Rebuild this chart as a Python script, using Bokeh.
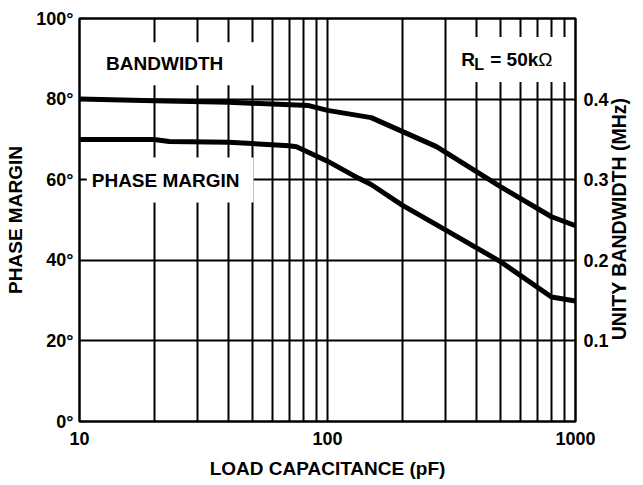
import math
from bokeh.plotting import figure
from bokeh.models import Label, LinearAxis, Range1d, FixedTicker
from bokeh.embed import file_html
from bokeh.resources import INLINE

# ---- data ----
bw_cap = [10, 20, 40, 84, 100, 150, 275, 500, 800, 1000]
bw_mhz = [0.400, 0.398, 0.396, 0.392, 0.386, 0.377, 0.341, 0.291, 0.254, 0.243]

pm_cap = [10, 20, 23, 40, 70, 75, 100, 133, 150, 200, 300, 500, 800, 1000]
pm_deg = [70, 70, 69.5, 69.3, 68.4, 68.2, 64.6, 60.4, 58.8, 53.7, 47.5, 39.6, 30.9, 29.9]

x_ticks = [10, 100, 1000]
x_tick_labels = ["10", "100", "1000"]
x_minor = [20, 30, 40, 50, 60, 70, 80, 90, 200, 300, 400, 500, 600, 700, 800, 900]
deg_ticks = [0, 20, 40, 60, 80, 100]
deg_labels = ["0\u00b0", "20\u00b0", "40\u00b0", "60\u00b0", "80\u00b0", "100\u00b0"]
bw_ticks = [0.1, 0.2, 0.3, 0.4]
bw_labels = ["0.1", "0.2", "0.3", "0.4"]

FONT = "Liberation Sans"

p = figure(width=643, height=485, x_axis_type="log",
           x_range=Range1d(10, 1000), y_range=Range1d(0, 100),
           output_backend="svg", toolbar_location=None,
           min_border_left=79, min_border_right=65,
           min_border_top=18, min_border_bottom=64)
p.extra_y_ranges = {"bw": Range1d(0, 0.5)}

p.outline_line_color = "black"
p.outline_line_width = 2.5
p.outline_line_alpha = 1.0

# x axis
xa = p.xaxis[0]
xa.ticker = FixedTicker(ticks=x_ticks, minor_ticks=x_minor)
xa.major_label_overrides = {t: l for t, l in zip(x_ticks, x_tick_labels)}
xa.axis_label = "LOAD CAPACITANCE (pF)"

# left axis
ya = p.yaxis[0]
ya.ticker = FixedTicker(ticks=deg_ticks)
ya.major_label_overrides = {t: l for t, l in zip(deg_ticks, deg_labels)}
ya.axis_label = "PHASE MARGIN"

# right axis, title reading bottom-to-top
ra = LinearAxis(y_range_name="bw", ticker=FixedTicker(ticks=bw_ticks))
ra.major_label_overrides = {t: l for t, l in zip(bw_ticks, bw_labels)}
if "axis_label_align" in LinearAxis.properties():
    ra.axis_label_align = "start"
    ra.axis_label_orientation = math.pi / 2
    ra.axis_label = "\u00a0" * 15 + "UNITY BANDWIDTH (MHz)"
else:
    ra.axis_label = "UNITY BANDWIDTH (MHz)"
p.add_layout(ra, "right")

for ax in [xa, ya, ra]:
    ax.axis_line_color = None
    ax.major_tick_in = 0
    ax.major_tick_out = 0
    ax.minor_tick_in = 0
    ax.minor_tick_out = 0
    ax.major_label_text_font = FONT
    ax.major_label_text_font_style = "bold"
    ax.major_label_text_font_size = "18px"
    ax.major_label_text_color = "black"
    ax.axis_label_text_font = FONT
    ax.axis_label_text_font_style = "bold"
    ax.axis_label_text_font_size = "19px"
    ax.axis_label_text_color = "black"
ra.axis_label_text_font_size = "19.5px"

xa.major_label_standoff = 10
xa.axis_label_standoff = 10
ya.major_label_standoff = 6
ya.axis_label_standoff = 7
ra.major_label_standoff = 8
ra.axis_label_standoff = 7

# grids
p.xgrid.ticker = xa.ticker
p.xgrid.grid_line_color = "black"
p.xgrid.grid_line_width = 2
p.xgrid.minor_grid_line_color = "black"
p.xgrid.minor_grid_line_width = 2
p.ygrid.ticker = ya.ticker
p.ygrid.grid_line_color = "black"
p.ygrid.grid_line_width = 2

# curves
p.line(bw_cap, bw_mhz, y_range_name="bw", line_color="black", line_width=5)
p.line(pm_cap, pm_deg, line_color="black", line_width=5)

# labels
def lab(x, y, text, pad=None, bg=True, size="19px", align="center", xo=0, yo=0,
        color="black", style="bold"):
    kw = dict(x=x, y=y, text=text, text_font=FONT, text_font_style=style,
              text_font_size=size, text_align=align, text_baseline="middle",
              text_color=color, x_offset=xo, y_offset=yo)
    if bg:
        kw.update(background_fill_color="white", background_fill_alpha=1.0, padding=pad)
    p.add_layout(Label(**kw))

lab(23.2, 88.8, "BANDWIDTH", pad=dict(left=20, right=31, top=11, bottom=11))
lab(23.2, 59.9, "PHASE MARGIN", pad=dict(left=5, right=14, top=12, bottom=12))

# R_L = 50kOhm
lab(346, 89.8, "RL = 50k\u03a9", pad=dict(left=8, right=6, top=12, bottom=12), align="left", color="white")
lab(346, 89.8, "R", bg=False, align="left")
lab(346, 89.8, "L", bg=False, align="left", xo=13, yo=-5, size="16px")
lab(346, 89.8, "= 50k", bg=False, align="left", xo=29)
lab(346, 89.8, "\u03a9", bg=False, align="left", xo=77, style="normal")

open("out.html", "w").write(file_html(p, INLINE))
